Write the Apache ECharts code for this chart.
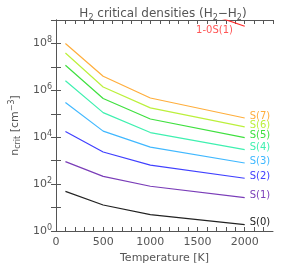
<!DOCTYPE html>
<html>
<head>
<meta charset="utf-8">
<script src="https://cdn.jsdelivr.net/npm/echarts@6/dist/echarts.min.js"></script>
<style>html,body{margin:0;padding:0;background:#fff}#c{width:293px;height:271px}</style>
</head>
<body>
<div id="c"></div>
<script>
const temperatures = [100, 500, 1000, 2000];
const S0 = [49, 12.9, 5.0, 1.86];
const S1 = [912, 214, 81, 26.3];
const S2 = [17400, 2340, 646, 178];
const S3 = [302000, 18200, 3800, 794];
const S4 = [2.57e6, 1.12e5, 1.58e4, 2950];
const S5 = [1.17e7, 4.47e5, 6.0e4, 9550];
const S6 = [3.9e7, 1.38e6, 1.78e5, 2.75e4];
const S7 = [1.0e8, 4.0e6, 4.7e5, 6.6e4];
const v10S1_T = [1500, 2000];
const v10S1 = [2.7e9, 5.4e8];
const seriesNames = ['S(0)','S(1)','S(2)','S(3)','S(4)','S(5)','S(6)','S(7)'];
const seriesVals = [S0,S1,S2,S3,S4,S5,S6,S7];
const seriesColors = ['#222222','#7a3db8','#4040ff','#40b8ff','#3ff0b0','#3fe03f','#bcf03c','#ffae3c'];
const annotation = '1-0S(1)';
const annotationAt = [1680, 3.6e8];

const FONT = 'DejaVu Sans';
const TXT = '#555';
const chart = echarts.init(document.getElementById('c'));
const series = seriesVals.map((vals, i) => ({
  type: 'line',
  name: seriesNames[i],
  data: temperatures.map((t, j) => [t, vals[j]]),
  showSymbol: false,
  symbol: 'none',
  lineStyle: { color: seriesColors[i], width: 1.2 },
  clip: true,
  animation: false,
  endLabel: { show: true, formatter: seriesNames[i], color: seriesColors[i], fontFamily: FONT, fontSize: 10, distance: 5, offset: [0, -2] }
}));
series.push({
  type: 'line',
  data: v10S1_T.map((t, j) => [t, v10S1[j]]),
  symbol: 'none',
  lineStyle: { color: '#ff2a2a', width: 1.2 },
  clip: true,
  animation: false
});
series.push({
  type: 'scatter',
  data: [annotationAt],
  symbolSize: 1,
  itemStyle: { color: 'rgba(0,0,0,0)' },
  clip: false,
  animation: false,
  label: { show: true, position: 'inside', formatter: annotation, color: '#ff2a2a', fontFamily: FONT, fontSize: 10 }
});
const axLine = { show: true, lineStyle: { color: '#555', width: 1 } };
chart.setOption({
  animation: false,
  title: {
    text: '{a|H}{s|2}{a| critical densities (H}{s|2}{a|\u2212H}{s|2}{a|)}',
    left: 158, top: 1, textAlign: 'center',
    textStyle: { fontWeight: 'normal', rich: {
      a: { fontFamily: FONT, fontSize: 12, color: TXT, fontWeight: 'normal' },
      s: { fontFamily: FONT, fontSize: 8, color: TXT, fontWeight: 'normal', verticalAlign: 'bottom', padding: [8, 0, 0, 0] }
    } }
  },
  grid: { left: 43, right: 20, top: 20, bottom: 40, containLabel: false },
  xAxis: [{
    type: 'value', min: 0, max: 2300, interval: 100,
    name: 'Temperature [K]', nameLocation: 'middle', nameGap: 20,
    nameTextStyle: { fontFamily: FONT, fontSize: 11, color: TXT },
    axisLine: axLine,
    axisTick: { show: true, inside: true, length: 4, lineStyle: { color: '#555' } },
    axisLabel: { fontFamily: FONT, fontSize: 11, color: TXT, margin: 6, showMaxLabel: false,
      formatter: v => (v % 500 === 0 ? String(v) : '') },
    splitLine: { show: false }
  }, {
    type: 'value', min: 0, max: 2300, interval: 100, position: 'top',
    axisLine: axLine,
    axisTick: { show: true, inside: true, length: 4, lineStyle: { color: '#555' } },
    axisLabel: { show: false }, splitLine: { show: false }
  }],
  yAxis: [{
    type: 'log', logBase: 10, min: 1, max: 1e9, splitNumber: 9,
    name: '{a|n}{s|crit}{a| [cm}{p|\u22123}{a|]}', nameLocation: 'middle', nameGap: 24, nameRotate: 90,
    nameTextStyle: { rich: {
      a: { fontFamily: FONT, fontSize: 11, color: TXT },
      s: { fontFamily: FONT, fontSize: 8, color: TXT, verticalAlign: 'bottom', padding: [6, 0, 0, 0] },
      p: { fontFamily: FONT, fontSize: 8, color: TXT, verticalAlign: 'top', padding: [0, 0, 6, 0] }
    } },
    axisLine: axLine,
    axisTick: { show: true, inside: true, length: 5, lineStyle: { color: '#555' } },
    axisLabel: { margin: 4, formatter: v => {
        const e = Math.round(Math.log10(v));
        return e % 2 === 0 ? '{b|10}{e|' + e + '}' : '';
      },
      rich: {
        b: { fontFamily: FONT, fontSize: 11, color: TXT },
        e: { fontFamily: FONT, fontSize: 8, color: TXT, verticalAlign: 'top', padding: [0, 0, 7, 0] }
      } },
    splitLine: { show: false }
  }, {
    type: 'log', logBase: 10, min: 1, max: 1e9, splitNumber: 9, position: 'right',
    axisLine: axLine,
    axisTick: { show: true, inside: true, length: 5, lineStyle: { color: '#555' } },
    axisLabel: { show: false }, splitLine: { show: false }
  }],
  series: series
});
</script>
</body>
</html>
